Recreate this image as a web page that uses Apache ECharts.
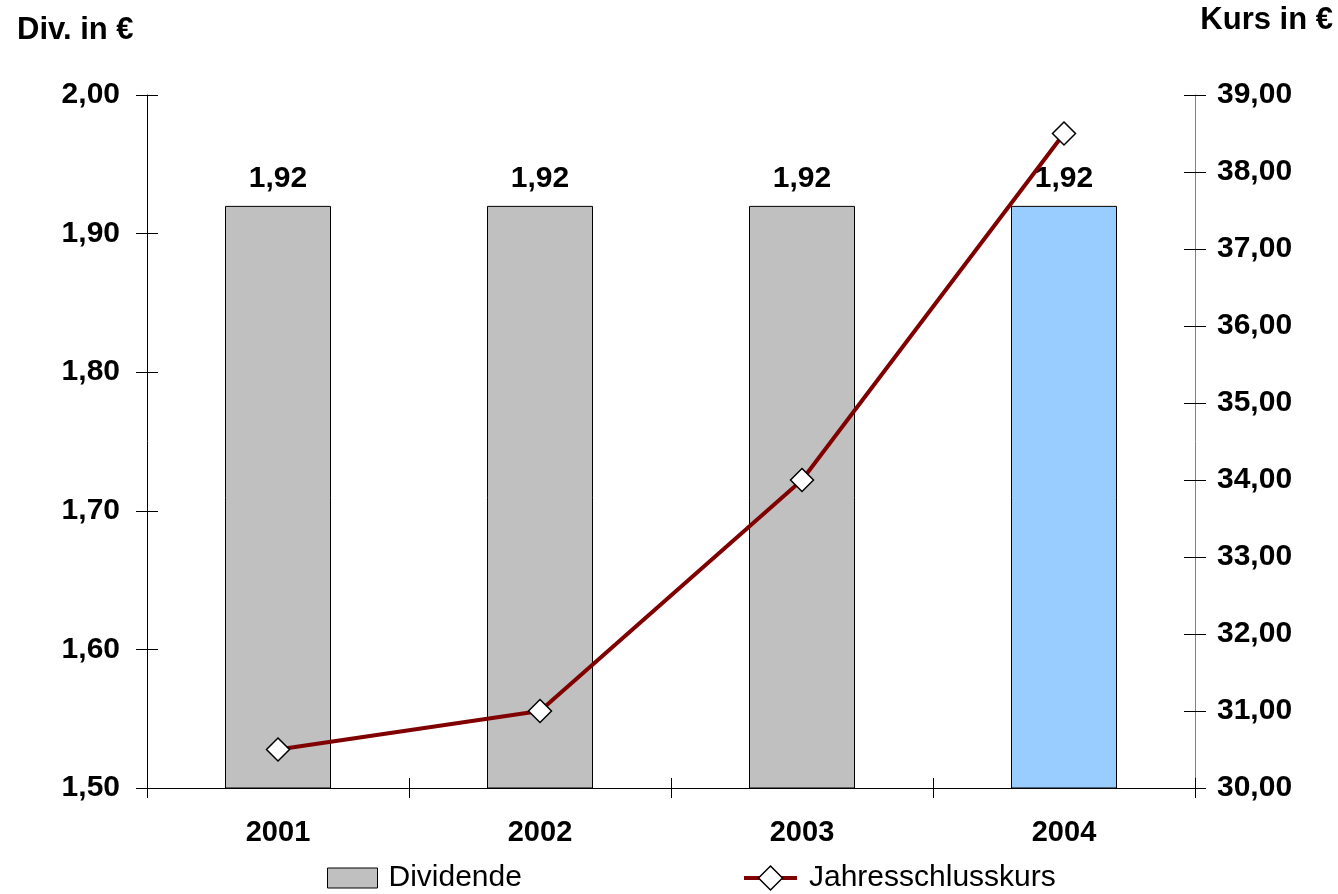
<!DOCTYPE html>
<html>
<head>
<meta charset="utf-8">
<script src="https://cdn.jsdelivr.net/npm/echarts@6/dist/echarts.min.js"></script>
<style>
  html, body { margin: 0; padding: 0; background: #ffffff; }
  #chart { width: 1338px; height: 894px; }
</style>
</head>
<body>
<div id="chart"></div>
<script>
// Years on the category axis
const years = ['2001', '2002', '2003', '2004'];
// Dividend per share (left axis, €)
const dividende = [1.92, 1.92, 1.92, 1.92];
// Year-end share price (right axis, €)
const jahresschlusskurs = [30.5, 31.0, 34.0, 38.5];
// Bar fill per year; the latest year is highlighted
const barColors = ['#C0C0C0', '#C0C0C0', '#C0C0C0', '#99CCFF'];

const fmt = v => v.toFixed(2).replace('.', ',');
const FONT = 'Liberation Sans, Arial, sans-serif';
const boldLabel = { fontFamily: FONT, fontWeight: 'bold', fontSize: 30, color: '#000' };

const chart = echarts.init(document.getElementById('chart'), null, { renderer: 'canvas' });

// shared axis range settings
const divRange = { min: 1.5, max: 2.0, interval: 0.1 };
const kursRange = { min: 30, max: 39, interval: 1 };

chart.setOption({
  animation: false,
  backgroundColor: '#ffffff',
  grid: { left: 147, right: 143, top: 95, bottom: 106, containLabel: false },
  graphic: [
    { type: 'text', left: 17, top: 15, style: { text: 'Div. in €', font: 'bold 31px ' + FONT, fill: '#000' } },
    { type: 'text', right: 5, top: 5, style: { text: 'Kurs in €', font: 'bold 31px ' + FONT, fill: '#000' } }
  ],
  legend: [
    {
      data: [{ name: 'Dividende', icon: 'rect', itemStyle: { color: '#C0C0C0', borderColor: '#000', borderWidth: 1 } }],
      left: 327, top: 863, padding: 0, itemWidth: 50, itemHeight: 20,
      textStyle: { fontFamily: FONT, fontSize: 30, color: '#000', padding: [0, 0, 0, 6] }
    },
    {
      data: [{
        name: 'Jahresschlusskurs',
        lineStyle: { color: '#800000', width: 4 },
        itemStyle: { color: '#ffffff', borderColor: '#000', borderWidth: 1.5 }
      }],
      left: 742, top: 863, padding: 0, itemWidth: 53, itemHeight: 30,
      textStyle: { fontFamily: FONT, fontSize: 30, color: '#000', padding: [0, 0, 0, 7] }
    }
  ],
  xAxis: [
    {
      type: 'category', data: years, position: 'bottom',
      axisLine: { lineStyle: { color: '#000', width: 1 } },
      axisTick: { show: true, alignWithLabel: false, length: 10, lineStyle: { color: '#000' } },
      axisLabel: Object.assign({ margin: 30 }, boldLabel, { fontSize: 29 }),
      splitLine: { show: false }
    },
    {
      // upward half of the crossing ticks
      type: 'category', data: years, position: 'bottom',
      axisLine: { show: false },
      axisTick: { show: true, inside: true, length: 10, lineStyle: { color: '#000' } },
      axisLabel: { show: false },
      splitLine: { show: false }
    }
  ],
  yAxis: [
    Object.assign({
      type: 'value', position: 'left',
      axisLine: { show: true, lineStyle: { color: '#000' } },
      axisTick: { show: true, length: 11, lineStyle: { color: '#000' } },
      axisLabel: Object.assign({ margin: 27, formatter: fmt }, boldLabel),
      splitLine: { show: false }
    }, divRange),
    Object.assign({
      type: 'value', position: 'right',
      axisLine: { show: true, lineStyle: { color: '#808080' } },
      axisTick: { show: true, length: 11, lineStyle: { color: '#000' } },
      axisLabel: Object.assign({ margin: 22, formatter: fmt }, boldLabel),
      splitLine: { show: false }
    }, kursRange),
    Object.assign({
      type: 'value', position: 'left',
      axisLine: { show: false },
      axisTick: { show: true, inside: true, length: 11, lineStyle: { color: '#000' } },
      axisLabel: { show: false },
      splitLine: { show: false }
    }, divRange),
    Object.assign({
      type: 'value', position: 'right',
      axisLine: { show: false },
      axisTick: { show: true, inside: true, length: 11, lineStyle: { color: '#000' } },
      axisLabel: { show: false },
      splitLine: { show: false }
    }, kursRange)
  ],
  series: [
    {
      name: 'Dividende', type: 'bar', yAxisIndex: 0, barWidth: 106,
      data: dividende.map((v, i) => ({ value: v, itemStyle: { color: barColors[i] } })),
      itemStyle: { color: '#C0C0C0', borderColor: '#000', borderWidth: 1 },
      label: {
        show: true, position: 'top', distance: 12, formatter: p => fmt(p.value),
        fontFamily: FONT, fontWeight: 'bold', fontSize: 30, color: '#000'
      },
      z: 2
    },
    {
      name: 'Jahresschlusskurs', type: 'line', yAxisIndex: 1, data: jahresschlusskurs,
      symbol: 'diamond', symbolSize: 23,
      lineStyle: { color: '#800000', width: 4 },
      itemStyle: { color: '#ffffff', borderColor: '#000', borderWidth: 1.5 },
      z: 5
    }
  ]
});
</script>
</body>
</html>
